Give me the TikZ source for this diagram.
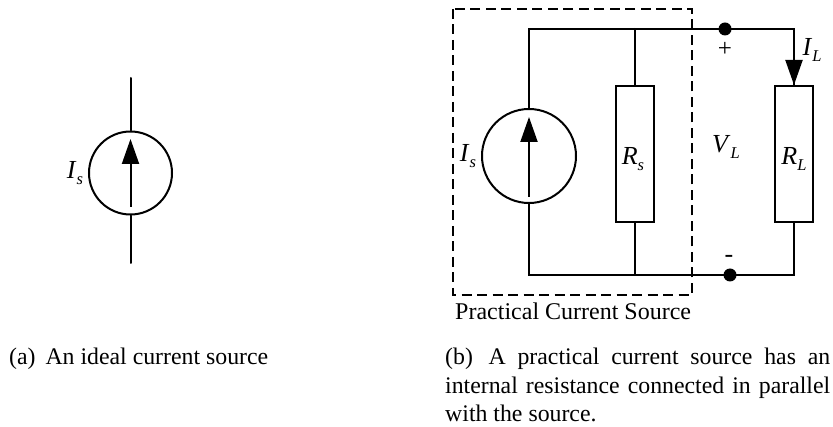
\documentclass[tikz,border=0pt]{standalone}
\usepackage{fontspec}
\setmainfont{Liberation Serif}
\usetikzlibrary{arrows.meta}
\newcommand{\sym}[2]{\textit{#1}\raisebox{-0.22em}{\fontsize{16.5}{16.5}\selectfont\textit{#2}}}
\newcommand{\capline}[1]{\makebox[385pt][s]{#1}}
\tikzset{
  x=1pt,y=-1pt,
  wire/.style={line width=2pt,line cap=round},
  srcc/.style={circle,draw,line width=2pt,inner sep=0pt},
  res/.style={rectangle,draw,line width=2pt,inner sep=0pt,minimum width=38pt,minimum height=136pt},
  junc/.style={circle,fill=black,inner sep=0pt,minimum size=13pt},
  cur/.style={wire,line cap=butt,-{Triangle[length=25pt,width=17pt]}},
  lab/.style={inner sep=0pt,font=\fontsize{26}{26}\selectfont},
  txt/.style={inner sep=0pt,font=\fontsize{23.8}{28.5}\selectfont},
}
\begin{document}
\begin{tikzpicture}
\useasboundingbox (0,0) rectangle (833,427);
% ideal source
\node[srcc,minimum size=83pt] (ca) at (130.5,173) {};
\coordinate (ta) at (130.5,78);
\coordinate (ba) at (130.5,263);
\coordinate (sa) at (130.5,207);
\coordinate (ea) at (130.5,139);
\draw[wire] (ta) -- (ca.north);
\draw[wire] (ca.south) -- (ba);
\draw[cur] (sa) -- (ea);
\node[lab] (ia) at (75,173) {\sym{I}{s}};
\node[txt,anchor=base west] (capa) at (9,365) {(a)\, An ideal current source};
% practical source
\node[srcc,minimum size=94pt] (cb) at (529,156) {};
\node[res] (rs) at (635,154) {};
\node[res] (rl) at (794,154) {};
\node[junc] (jt) at (725,29) {};
\node[junc] (jb) at (730,275) {};
\coordinate (tl) at (529,29);
\coordinate (bl) at (529,275);
\coordinate (tr) at (794,29);
\coordinate (br) at (794,275);
\coordinate (tm) at (635,29);
\coordinate (bm) at (635,275);
\coordinate (sb) at (529,197);
\coordinate (eb) at (529,117);
\draw[wire] (cb.north) -- (tl) -- (jt.center) -- (tr) -- (rl.north);
\draw[wire] (cb.south) -- (bl) -- (jb.center) -- (br) -- (rl.south);
\draw[wire] (tm) -- (rs.north);
\draw[wire] (rs.south) -- (bm);
\draw[cur] (sb) -- (eb);
\draw[cur] (tr) -- (rl.north);
\draw[line width=2pt,dash pattern=on 10pt off 5.5pt] (453,9) rectangle (692,295);
\node[lab] (ib) at (468,156) {\sym{I}{s}};
\node[lab] (lrs) at (633,159) {\sym{R}{s}};
\node[lab] (lrl) at (794,159) {\sym{R}{L}};
\node[lab] (lvl) at (726,147) {\sym{V}{L}};
\node[lab] (lil) at (812,50) {\sym{I}{L}};
\node[lab,font=\fontsize{25}{25}\selectfont] (lp) at (725,49) {+};
\node[lab] (lm) at (729,259) {-};
\node[txt,anchor=base west,font=\fontsize{24}{24}\selectfont] (cap) at (455,320) {Practical Current Source};
\node[txt,anchor=north west,align=left] (capb) at (445,348) {\capline{(b)\, A practical current source has an}\\\capline{internal resistance connected in parallel}\\with the source.};
\end{tikzpicture}
\end{document}
